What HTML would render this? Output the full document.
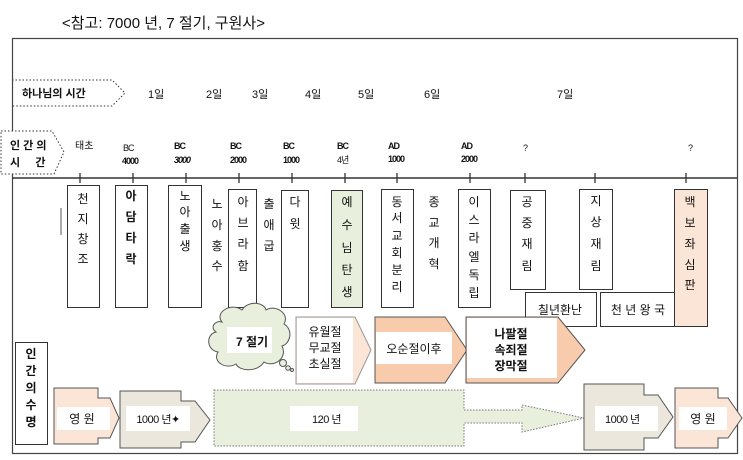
<!DOCTYPE html>
<html><head><meta charset="utf-8"><style>
body{margin:0;background:#fff;width:743px;height:460px;overflow:hidden}
svg{display:block}
text{font-family:"Liberation Sans","Noto Sans CJK KR",sans-serif;fill:#111}
</style></head><body>
<svg width="743" height="460" viewBox="0 0 743 460" xmlns="http://www.w3.org/2000/svg">
<text x="62" y="28" font-size="15">&lt;참고: 7000 년, 7 절기, 구원사&gt;</text>
<rect x="12.5" y="38.5" width="725" height="415" fill="none" stroke="#444" stroke-width="1.2"/>
<!-- 하나님의 시간 -->
<path d="M12,80 H112 L125,93 L112,106 H12" fill="none" stroke="#333" stroke-dasharray="1.5,2"/>
<text x="22" y="97" font-size="11" font-weight="bold">하나님의 시간</text>
<g font-size="11">
<text x="148" y="98">1일</text><text x="206" y="98">2일</text><text x="252" y="98">3일</text>
<text x="305" y="98">4일</text><text x="358" y="98">5일</text><text x="424" y="98">6일</text><text x="557" y="98">7일</text>
</g>
<!-- 인간의 시간 -->
<path d="M1,131 H52 L64,152 L54,174 H1 Z" fill="#fff" stroke="#333" stroke-dasharray="1.5,2"/>
<text x="10" y="149" font-size="11" font-weight="bold">인 간 의</text>
<text x="10" y="166" font-size="11" font-weight="bold">시 &#160; &#160; 간</text>
<line x1="12" y1="178" x2="737" y2="178" stroke="#333" stroke-width="1.5"/>
<g stroke="#333" stroke-width="1.3">
<line x1="80" y1="173" x2="80" y2="183"/><line x1="133" y1="173" x2="133" y2="183"/><line x1="186" y1="173" x2="186" y2="183"/>
<line x1="239" y1="173" x2="239" y2="183"/><line x1="292" y1="173" x2="292" y2="183"/><line x1="345" y1="173" x2="345" y2="183"/>
<line x1="397" y1="173" x2="397" y2="183"/><line x1="470" y1="173" x2="470" y2="183"/><line x1="525" y1="173" x2="525" y2="183"/>
<line x1="595" y1="173" x2="595" y2="183"/><line x1="686" y1="173" x2="686" y2="183"/>
</g>
<g font-size="9" letter-spacing="-1">
<text x="75" y="149" font-size="10" letter-spacing="0">태초</text>
<text x="123" y="151">BC</text><text x="122" y="164" font-weight="bold">4000</text>
<text x="174" y="149" font-weight="bold">BC</text><text x="174" y="163" font-weight="bold" font-style="italic">3000</text>
<text x="230" y="149" font-weight="bold">BC</text><text x="230" y="163" font-weight="bold">2000</text>
<text x="283" y="149" font-weight="bold">BC</text><text x="283" y="163" font-weight="bold">1000</text>
<text x="337" y="149" font-weight="bold">BC</text><text x="337" y="163" font-size="9">4년</text>
<text x="388" y="149" font-weight="bold">AD</text><text x="388" y="162" font-weight="bold">1000</text>
<text x="461" y="149" font-weight="bold">AD</text><text x="461" y="162" font-weight="bold">2000</text>
<text x="523" y="151">?</text><text x="688" y="151">?</text>
</g>
<line x1="61" y1="208" x2="61" y2="235" stroke="#555"/>
<!-- vertical boxes -->
<g stroke="#333" stroke-width="1" fill="#fff">
<rect x="67.5" y="185.5" width="32" height="122"/>
<rect x="115.5" y="185.5" width="32" height="122"/>
<rect x="168.5" y="185.5" width="33" height="122"/>
<rect x="228.5" y="189.5" width="28" height="118"/>
<rect x="281.5" y="190.5" width="27" height="117"/>
<rect x="331.5" y="190.5" width="31" height="117" fill="#e8efdc"/>
<rect x="381.5" y="189.5" width="32" height="118"/>
<rect x="458.5" y="189.5" width="32" height="118"/>
<rect x="510.5" y="190.5" width="35" height="99"/>
<rect x="579.5" y="189.5" width="33" height="100"/>
<rect x="525.5" y="292.5" width="71" height="34"/>
<rect x="600.5" y="292.5" width="75" height="34"/>
<rect x="674.5" y="189.5" width="33" height="137" fill="#fbe5d6"/>
</g>
<g font-size="12" text-anchor="middle">
<text x="83" y="203">천</text><text x="83" y="223">지</text><text x="83" y="243">창</text><text x="83" y="263">조</text>
<text x="131" y="200" font-weight="bold">아</text><text x="131" y="221" font-weight="bold">담</text><text x="131" y="242" font-weight="bold">타</text><text x="131" y="263" font-weight="bold">락</text>
<text x="185" y="200">노</text><text x="185" y="216">아</text><text x="185" y="233">출</text><text x="185" y="250">생</text>
<text x="217" y="208">노</text><text x="217" y="229">아</text><text x="217" y="250">홍</text><text x="217" y="270">수</text>
<text x="243" y="206">아</text><text x="243" y="227">브</text><text x="243" y="248">라</text><text x="243" y="270">함</text>
<text x="269" y="208">출</text><text x="269" y="229">애</text><text x="269" y="250">굽</text>
<text x="295" y="206">다</text><text x="295" y="228">윗</text>
<text x="347" y="206">예</text><text x="347" y="229">수</text><text x="347" y="252">님</text><text x="347" y="274">탄</text><text x="347" y="296">생</text>
<text x="397" y="206">동</text><text x="397" y="222">서</text><text x="397" y="240">교</text><text x="397" y="257">회</text><text x="397" y="274">분</text><text x="397" y="291">리</text>
<text x="434" y="206">종</text><text x="434" y="227">교</text><text x="434" y="247">개</text><text x="434" y="268">혁</text>
<text x="474" y="206">이</text><text x="474" y="224">스</text><text x="474" y="242">라</text><text x="474" y="261">엘</text><text x="474" y="279">독</text><text x="474" y="297">립</text>
<text x="527" y="206">공</text><text x="527" y="227">중</text><text x="527" y="248">재</text><text x="527" y="270">림</text>
<text x="596" y="205">지</text><text x="596" y="226">상</text><text x="596" y="248">재</text><text x="596" y="270">림</text>
<text x="690" y="206">백</text><text x="690" y="227">보</text><text x="690" y="248">좌</text><text x="690" y="269">심</text><text x="690" y="289">판</text>
<text x="560" y="314">칠년환난</text>
<text x="638" y="314">천 년 왕 국</text>
</g>
<!-- cloud -->
<path d="M222,322 C214,312 232,302 242,310 C248,300 264,302 266,310 C276,304 290,314 284,324 C294,330 290,344 282,346 C288,358 274,368 264,362 C258,372 240,372 236,364 C226,370 212,362 218,352 C206,350 206,334 216,332 C210,328 214,320 222,322 Z" fill="#e8efdc" stroke="#555"/>
<circle cx="283" cy="363" r="3.5" fill="#e8efdc" stroke="#555"/><circle cx="288" cy="368" r="2.3" fill="#e8efdc" stroke="#555"/><circle cx="292" cy="370" r="1.5" fill="#e8efdc" stroke="#555"/>
<rect x="227" y="327" width="45" height="26" fill="#fff"/>
<text x="236" y="346" font-size="12" font-weight="bold">7 절기</text>
<!-- 유월절 -->
<path d="M296,317 H355 L371,350 L355,384 H296 Z" fill="#fbe5d6" stroke="#999"/>
<rect x="297" y="318" width="56" height="65" fill="#fff"/>
<g font-size="12" text-anchor="middle">
<text x="325" y="336">유월절</text><text x="325" y="352">무교절</text><text x="325" y="368">초실절</text>
</g>
<!-- 오순절이후 -->
<path d="M375,317 H445 L467,350 L445,383 H375 Z" fill="#f8cbad" stroke="#555"/>
<rect x="376" y="332" width="76" height="32" fill="#fff"/>
<text x="414" y="353" font-size="12" text-anchor="middle">오순절이후</text>
<!-- 나팔절 -->
<path d="M466,317 H558 L585,350 L558,383 H466 Z" fill="#f8cbad" stroke="#555"/>
<path d="M467,318 H557 V378 H467 Z" fill="#fff"/>
<g font-size="12" text-anchor="middle" font-weight="bold">
<text x="511" y="338">나팔절</text><text x="511" y="354">속죄절</text><text x="511" y="370">장막절</text>
</g>
<!-- 인간의수명 -->
<rect x="15.5" y="342.5" width="32" height="102" fill="#fff" stroke="#333"/>
<g font-size="12" font-weight="bold" text-anchor="middle">
<text x="31" y="358">인</text><text x="31" y="375">간</text><text x="31" y="392">의</text><text x="31" y="409">수</text><text x="31" y="426">명</text>
</g>
<!-- bottom arrows -->
<path d="M54,388 H98 V398 H110 L119,418 L110,438 H98 V444 H54 Z" fill="#fbe5d6" stroke="#555"/>
<rect x="57" y="407" width="53" height="23" fill="#fff"/>
<text x="82" y="423" font-size="12" text-anchor="middle">영 원</text>
<path d="M120,391 H181 V401 H195 L210,420 L195,442 H181 V448 H120 Z" fill="#ebe7dc" stroke="#555"/>
<rect x="126" y="406" width="64" height="25" fill="#fff"/>
<text x="158" y="423" font-size="11" text-anchor="middle" letter-spacing="-0.5">1000 년✦</text>
<path d="M214,390 H464 V410 H522 V405 L584,418 L522,432 V423 H464 V446 H214 Z" fill="#e8efdc" stroke="#777" stroke-dasharray="1.5,1.5"/>
<rect x="290" y="406" width="68" height="25" fill="#fff"/>
<text x="312" y="423" font-size="11" letter-spacing="-0.5">120 년</text>
<path d="M584,384 H644 V395 H658 L673,417 L658,438 H644 V450 H584 Z" fill="#ebe7dc" stroke="#555"/>
<rect x="595" y="406" width="63" height="25" fill="#fff"/>
<text x="605" y="423" font-size="11" letter-spacing="-0.5">1000 년</text>
<path d="M675,388 H718 V398 H728 L742,418 L728,438 H718 V448 H675 Z" fill="#fbe5d6" stroke="#555"/>
<rect x="679" y="407" width="48" height="23" fill="#fff"/>
<text x="703" y="423" font-size="12" text-anchor="middle">영 원</text>
</svg>
</body></html>
